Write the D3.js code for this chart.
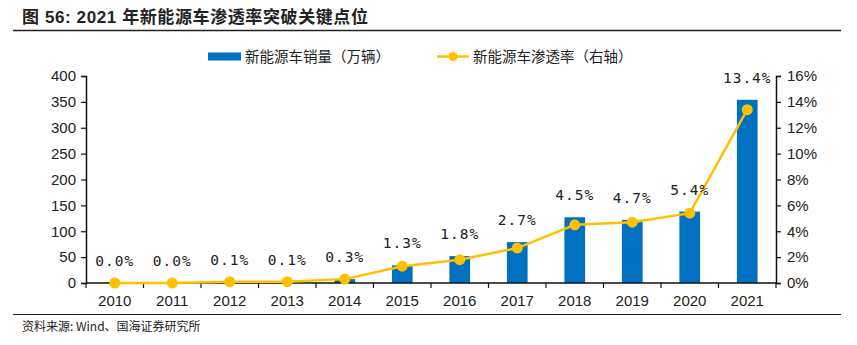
<!DOCTYPE html>
<html>
<head>
<meta charset="utf-8">
<script src="https://cdn.jsdelivr.net/npm/d3@7"></script>
<style>
  body { margin: 0; background: #fff; }
  text { fill: #222; }
</style>
</head>
<body>
<div id="chart"></div>
<script>
var svgWidth = 857;
var svgHeight = 345;

// chart data
var years = ["2010", "2011", "2012", "2013", "2014", "2015", "2016", "2017", "2018", "2019", "2020", "2021"];
var sales = [0.5, 0.8, 1.3, 1.8, 7.5, 34, 52, 79, 127, 122, 138, 354];   // 万辆
var share = [0.0, 0.0, 0.1, 0.1, 0.3, 1.3, 1.8, 2.7, 4.5, 4.7, 5.4, 13.4]; // %
var leftTicks = [0, 50, 100, 150, 200, 250, 300, 350, 400];
var rightTicks = [0, 2, 4, 6, 8, 10, 12, 14, 16];

var plot = { left: 86, right: 776, top: 76, bottom: 283 };

var svg = d3.select("#chart")
  .append("svg")
  .attr("width", svgWidth)
  .attr("height", svgHeight);

// title and rules
svg.append("text")
  .attr("x", 22)
  .attr("y", 23)
  .style("font-family", "'Liberation Sans', 'Noto Sans CJK SC', sans-serif")
  .style("font-size", "17px")
  .style("font-weight", "bold")
  .style("letter-spacing", "0.6px")
  .text("图 56:  2021 年新能源车渗透率突破关键点位");

svg.append("line")
  .attr("x1", 13).attr("x2", 841)
  .attr("y1", 30.5).attr("y2", 30.5)
  .attr("stroke", "#222").attr("stroke-width", 1.5);

svg.append("line")
  .attr("x1", 13).attr("x2", 841)
  .attr("y1", 314.5).attr("y2", 314.5)
  .attr("stroke", "#222").attr("stroke-width", 1);

svg.append("text")
  .attr("x", 22)
  .attr("y", 331)
  .style("font-family", "'Noto Sans CJK SC', serif")
  .style("font-size", "12px")
  .text("资料来源: Wind、国海证券研究所");

// scales
var xScale = d3.scaleBand()
  .domain(years)
  .range([plot.left, plot.right])
  .paddingInner(0.64)
  .paddingOuter(0.32);

var yLeft = d3.scaleLinear().domain([0, 400]).range([plot.bottom, plot.top]);
var yRight = d3.scaleLinear().domain([0, 16]).range([plot.bottom, plot.top]);

var cx = function(d, i) { return xScale(years[i]) + xScale.bandwidth() / 2; };

// bars
svg.append("g")
  .selectAll("rect")
  .data(sales)
  .enter()
  .append("rect")
  .attr("x", (d, i) => xScale(years[i]))
  .attr("y", d => yLeft(d))
  .attr("width", xScale.bandwidth())
  .attr("height", d => plot.bottom - yLeft(d))
  .attr("fill", "#0070C0");

// axes
var tickFont = "'Liberation Sans', Arial, sans-serif";

var leftAxis = svg.append("g")
  .attr("transform", `translate(${plot.left},0)`)
  .call(d3.axisLeft(yLeft).tickValues(leftTicks).tickSize(5).tickPadding(5));

var rightAxis = svg.append("g")
  .attr("transform", `translate(${plot.right},0)`)
  .call(d3.axisRight(yRight).tickValues(rightTicks).tickSize(5).tickPadding(6)
    .tickFormat(d => d + "%"));

[leftAxis, rightAxis].forEach(function(a) {
  a.select(".domain").attr("stroke", "#111").attr("stroke-width", 1.5);
  a.selectAll(".tick line").attr("stroke", "#111").attr("stroke-width", 1.2);
  a.selectAll(".tick text")
    .style("font-family", tickFont)
    .style("font-size", "15px")
    .attr("fill", "#222");
});

// x axis with ticks at category boundaries
var xAxis = svg.append("g")
  .attr("transform", `translate(0,${plot.bottom})`);

xAxis.append("line")
  .attr("x1", plot.left).attr("x2", plot.right)
  .attr("y1", 0).attr("y2", 0)
  .attr("stroke", "#111").attr("stroke-width", 1.5);

var step = xScale.step();
xAxis.selectAll(".xtick")
  .data(d3.range(years.length + 1))
  .enter()
  .append("line")
  .attr("x1", i => plot.left + i * step)
  .attr("x2", i => plot.left + i * step)
  .attr("y1", 0).attr("y2", 5)
  .attr("stroke", "#111").attr("stroke-width", 1.2);

xAxis.selectAll(".xlabel")
  .data(years)
  .enter()
  .append("text")
  .attr("x", (d, i) => cx(d, i))
  .attr("y", 23)
  .attr("text-anchor", "middle")
  .style("font-family", tickFont)
  .style("font-size", "15px")
  .text(d => d);

// penetration line
var line = d3.line()
  .x((d, i) => cx(d, i))
  .y(d => yRight(d));

svg.append("path")
  .datum(share)
  .attr("d", line)
  .attr("fill", "none")
  .attr("stroke", "#FFC000")
  .attr("stroke-width", 2.5);

svg.append("g")
  .selectAll("circle")
  .data(share)
  .enter()
  .append("circle")
  .attr("cx", (d, i) => cx(d, i))
  .attr("cy", d => yRight(d))
  .attr("r", 5.5)
  .attr("fill", "#FFC000");

// value labels above the higher of bar / point
svg.append("g")
  .selectAll("text")
  .data(share)
  .enter()
  .append("text")
  .attr("x", (d, i) => cx(d, i))
  .attr("y", (d, i) => Math.min(yLeft(sales[i]), yRight(d)) - 17)
  .attr("text-anchor", "middle")
  .style("font-family", "'DejaVu Sans Mono', monospace")
  .style("font-size", "14.5px")
  .style("letter-spacing", "1px")
  .attr("fill", "#333")
  .text(d => d.toFixed(1) + "%");

// legend
var legendFont = "'Noto Sans CJK SC', serif";
svg.append("rect")
  .attr("x", 208).attr("y", 52.5)
  .attr("width", 33).attr("height", 8)
  .attr("fill", "#0070C0");

svg.append("text")
  .attr("x", 245).attr("y", 62)
  .style("font-family", legendFont)
  .style("font-size", "14.5px")
  .attr("fill", "#333")
  .text("新能源车销量（万辆）");

svg.append("line")
  .attr("x1", 437).attr("x2", 469)
  .attr("y1", 56.5).attr("y2", 56.5)
  .attr("stroke", "#FFC000").attr("stroke-width", 2.5);

svg.append("circle")
  .attr("cx", 453).attr("cy", 56.5).attr("r", 4.5)
  .attr("fill", "#FFC000");

svg.append("text")
  .attr("x", 473).attr("y", 62)
  .style("font-family", legendFont)
  .style("font-size", "14.5px")
  .attr("fill", "#333")
  .text("新能源车渗透率（右轴）");
</script>
</body>
</html>
